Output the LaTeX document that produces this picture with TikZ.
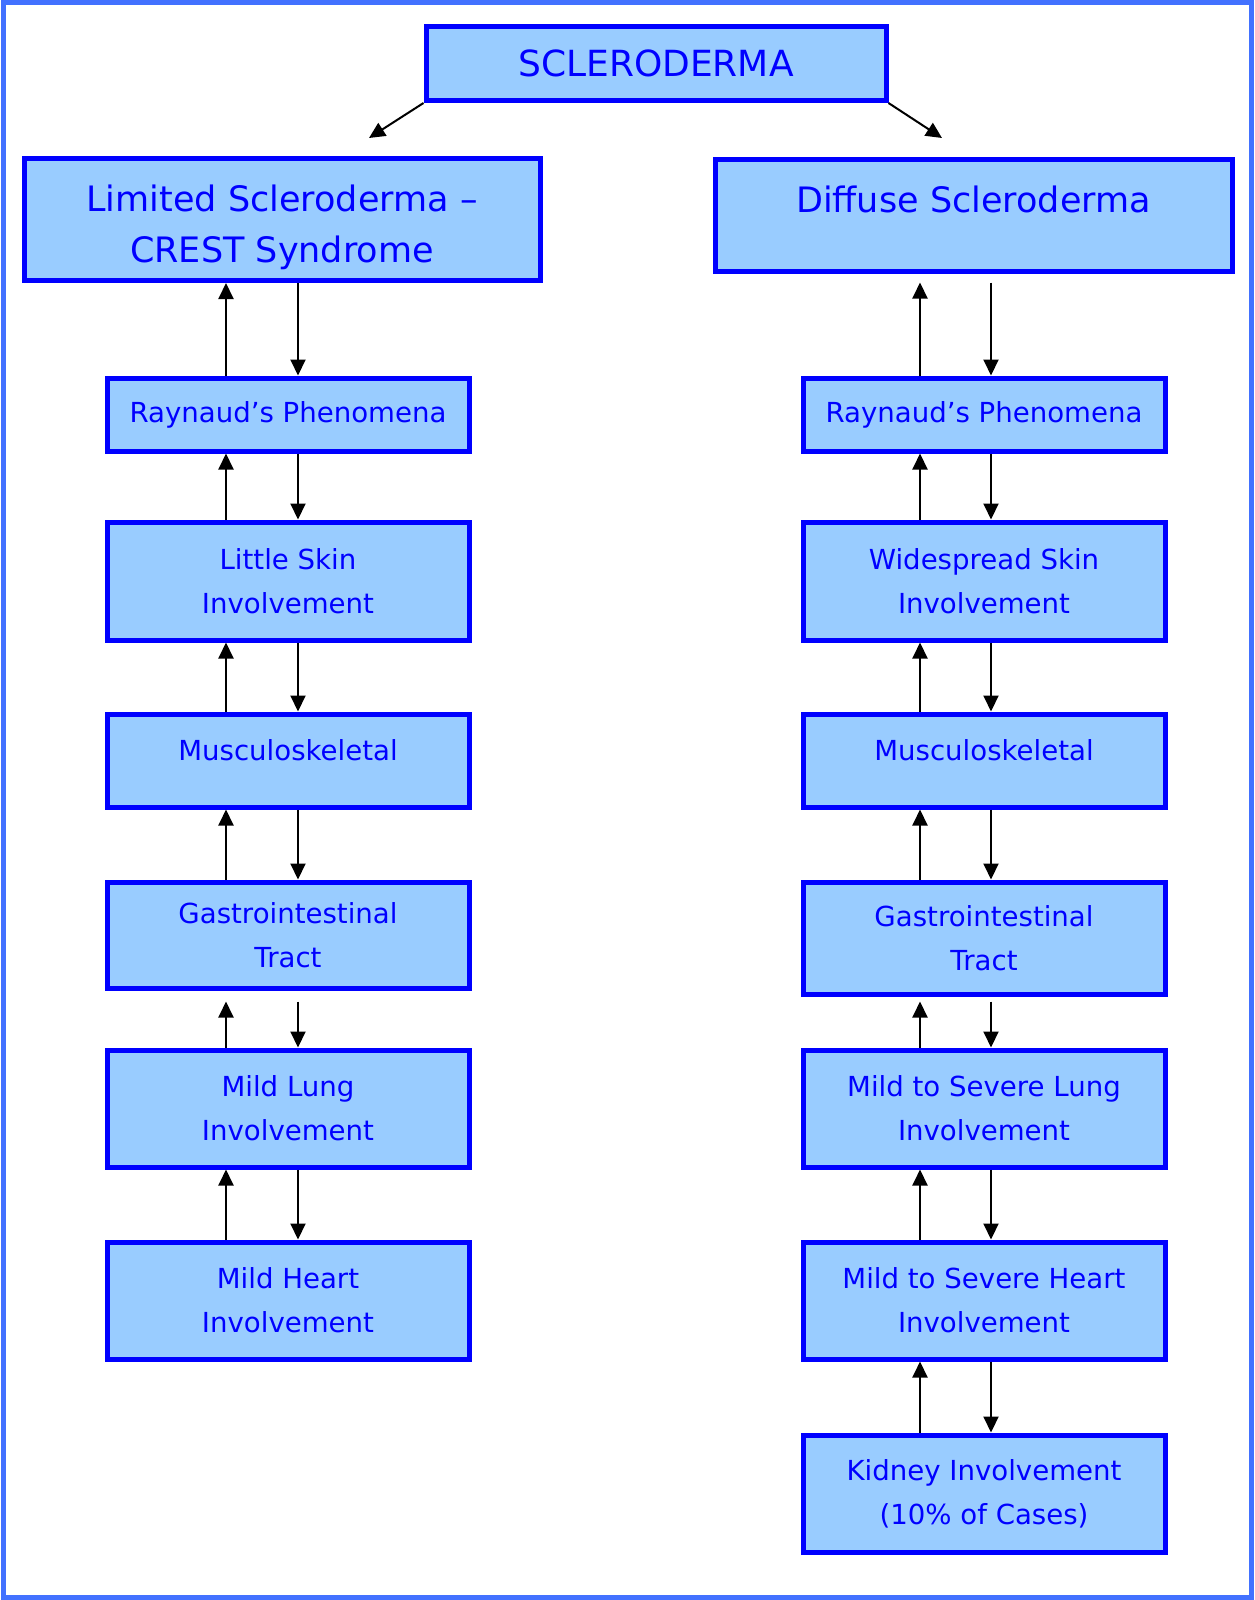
\documentclass[tikz,border=0pt]{standalone}
\usepackage{fontspec}
\setmainfont{DejaVu Sans}
\usetikzlibrary{arrows.meta}
\definecolor{boxfill}{RGB}{153,204,255}
\definecolor{boxline}{RGB}{0,0,255}
\definecolor{frameline}{RGB}{66,113,255}
\begin{document}
\begin{tikzpicture}[x=0.5pt,y=-0.5pt,     % one unit = one pixel of the page
  box/.style={draw=boxline, line width=2.5pt, fill=boxfill, text=boxline, align=center, inner sep=0pt},
  bigbox/.style={box, font=\fontsize{17.5}{25.5}\selectfont},
  smallbox/.style={box, minimum width=181pt, font=\fontsize{13.8}{22}\selectfont},
  arr/.style={-{Triangle[length=8pt,width=7.5pt]}, line width=1pt}]
  \useasboundingbox (0,0) rectangle (1254,1600);
  \draw[frameline, line width=2.5pt] (3,3) rectangle (1251,1597);

  % top and the two kinds
  \node[box, minimum width=230pt, minimum height=37pt, font=\fontsize{18}{22}\selectfont] (top) at (656,63.5) {SCLERODERMA};
  \node[bigbox, minimum width=258pt, minimum height=61pt] (limited) at (282,219.5) {\rule{0pt}{21.5pt}Limited Scleroderma –\\CREST Syndrome};
  \node[bigbox, minimum width=258.5pt, minimum height=56pt] (diffuse) at (973.5,215) {Diffuse Scleroderma\\[-17.5pt]\strut};
  \coordinate (limtip) at (369,138);
  \coordinate (diftip) at (942,138);
  \draw[arr] (top.south west) -- (limtip);
  \draw[arr] (top.south east) -- (diftip);

  % limited column
  \node[smallbox, minimum height=36.5pt] (rayL) at (288,414.5) {Raynaud’s Phenomena};
  \node[smallbox, minimum height=59pt] (skinL) at (288,581) {Little Skin\\Involvement};
  \node[smallbox, minimum height=46.5pt] (muscL) at (288,760.5) {Musculoskeletal\\[-12pt]\mbox{}};
  \node[smallbox, minimum height=53pt] (giL) at (288,935) {Gastrointestinal\\Tract};
  \node[smallbox, minimum height=58.5pt] (lungL) at (288,1108.5) {Mild Lung\\Involvement};
  \node[smallbox, minimum height=58.5pt] (heartL) at (288,1300.5) {Mild Heart\\Involvement};

  % diffuse column
  \node[smallbox, minimum height=36.5pt] (rayR) at (984,414.5) {Raynaud’s Phenomena};
  \node[smallbox, minimum height=59pt] (skinR) at (984,581) {Widespread Skin\\Involvement};
  \node[smallbox, minimum height=46.5pt] (muscR) at (984,760.5) {Musculoskeletal\\[-12pt]\mbox{}};
  \node[smallbox, minimum height=56pt] (giR) at (984,938) {Gastrointestinal\\Tract};
  \node[smallbox, minimum height=58.5pt] (lungR) at (984,1108.5) {Mild to Severe Lung\\Involvement};
  \node[smallbox, minimum height=58.5pt] (heartR) at (984,1300.5) {Mild to Severe Heart\\Involvement};
  \node[smallbox, minimum height=58.5pt] (kidney) at (984,1493.5) {Kidney Involvement\\(10\% of Cases)};

  % up and down arrows
  \coordinate (upL) at (226,0);
  \coordinate (dnL) at (298,0);
  \coordinate (upR) at (920,0);
  \coordinate (dnR) at (991,0);
  \foreach \a/\b/\g in {limited/rayL/0pt, rayL/skinL/0pt, skinL/muscL/0pt, muscL/giL/0pt, giL/lungL/5.5pt, lungL/heartL/0pt}{
    \draw[arr, shorten >=\g] (\b.north -| upL) -- (\a.south -| upL);
    \draw[arr, shorten <=\g] (\a.south -| dnL) -- (\b.north -| dnL);
  }
  \foreach \a/\b/\g in {diffuse/rayR/4.5pt, rayR/skinR/0pt, skinR/muscR/0pt, muscR/giR/0pt, giR/lungR/2.5pt, lungR/heartR/0pt, heartR/kidney/0pt}{
    \draw[arr, shorten >=\g] (\b.north -| upR) -- (\a.south -| upR);
    \draw[arr, shorten <=\g] (\a.south -| dnR) -- (\b.north -| dnR);
  }
\end{tikzpicture}
\end{document}
